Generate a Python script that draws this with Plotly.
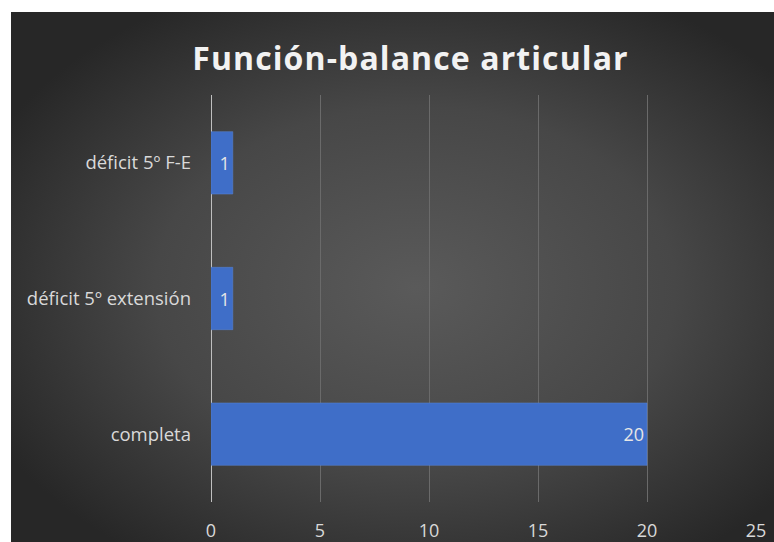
import base64
import plotly.graph_objects as go

categories = ["completa", "déficit 5º extensión", "déficit 5º F-E"]
values = [20, 1, 1]
x_ticks = [0, 5, 10, 15, 20, 25]
title_text = "Función-balance articular"

W, H = 774, 542
ML, MR, MT, MB = 211, 18, 95, 40
pw, ph = W - ML - MR, H - MT - MB

svg = (
    '<svg xmlns="http://www.w3.org/2000/svg" width="763" height="530" '
    'preserveAspectRatio="none" viewBox="0 0 763 530">'
    '<defs><radialGradient id="g" cx="0.53" cy="0.52" r="0.62">'
    '<stop offset="0" stop-color="#5a5a5a"/>'
    '<stop offset="0.55" stop-color="#474747"/>'
    '<stop offset="1" stop-color="#272727"/>'
    '</radialGradient></defs>'
    '<rect width="763" height="530" fill="url(#g)"/></svg>'
)
bg_src = "data:image/svg+xml;base64," + base64.b64encode(svg.encode()).decode()

x0 = (11 - ML) / pw
x1 = (W - ML) / pw
y1 = (H - 12 - MB) / ph
y0 = -MB / ph

fig = go.Figure(
    go.Bar(
        y=categories,
        x=values,
        orientation="h",
        marker=dict(color="#3f6ec8", line=dict(color="#5a86d6", width=0.5)),
        text=[str(v) for v in values],
        textposition="inside",
        insidetextanchor="end",
        constraintext="none",
        textfont=dict(color="#e6e6e6", size=18, family="Open Sans"),
        width=0.46,
        hoverinfo="skip",
    )
)

fig.update_layout(
    width=W,
    height=H,
    margin=dict(l=ML, r=MR, t=MT, b=MB, pad=0, autoexpand=False),
    paper_bgcolor="white",
    plot_bgcolor="rgba(0,0,0,0)",
    showlegend=False,
    font=dict(family="Open Sans", color="#d9d9d9", size=18),
    title=dict(
        text='<b><span style="letter-spacing:1.1px">' + title_text + "</span></b>",
        x=410.5 / W,
        xanchor="center",
        y=1 - 59 / H,
        yanchor="middle",
        font=dict(family="Open Sans", size=32, color="#f2f2f2"),
    ),
    images=[
        dict(
            source=bg_src,
            xref="paper",
            yref="paper",
            x=x0,
            y=y1,
            sizex=x1 - x0,
            sizey=y1 - y0,
            xanchor="left",
            yanchor="top",
            sizing="stretch",
            layer="below",
        )
    ],
    xaxis=dict(
        range=[0, 25],
        tickvals=x_ticks,
        ticktext=[str(t) for t in x_ticks],
        showgrid=True,
        gridcolor="#6a6a6a",
        gridwidth=1,
        zeroline=True,
        zerolinecolor="#bfbfbf",
        zerolinewidth=1,
        showline=False,
        tickfont=dict(size=18, color="#d9d9d9"),
        ticklabelstandoff=16,
        automargin=False,
        fixedrange=True,
    ),
    yaxis=dict(
        categoryorder="array",
        categoryarray=categories,
        showgrid=False,
        zeroline=False,
        showline=False,
        tickfont=dict(size=18.5, color="#d9d9d9"),
        ticklabelstandoff=19,
        automargin=False,
        fixedrange=True,
    ),
)

fig.write_html(
    "out.html",
    config={"displayModeBar": False},
    post_script="document.body.style.margin='0';document.body.style.overflow='hidden';",
)
